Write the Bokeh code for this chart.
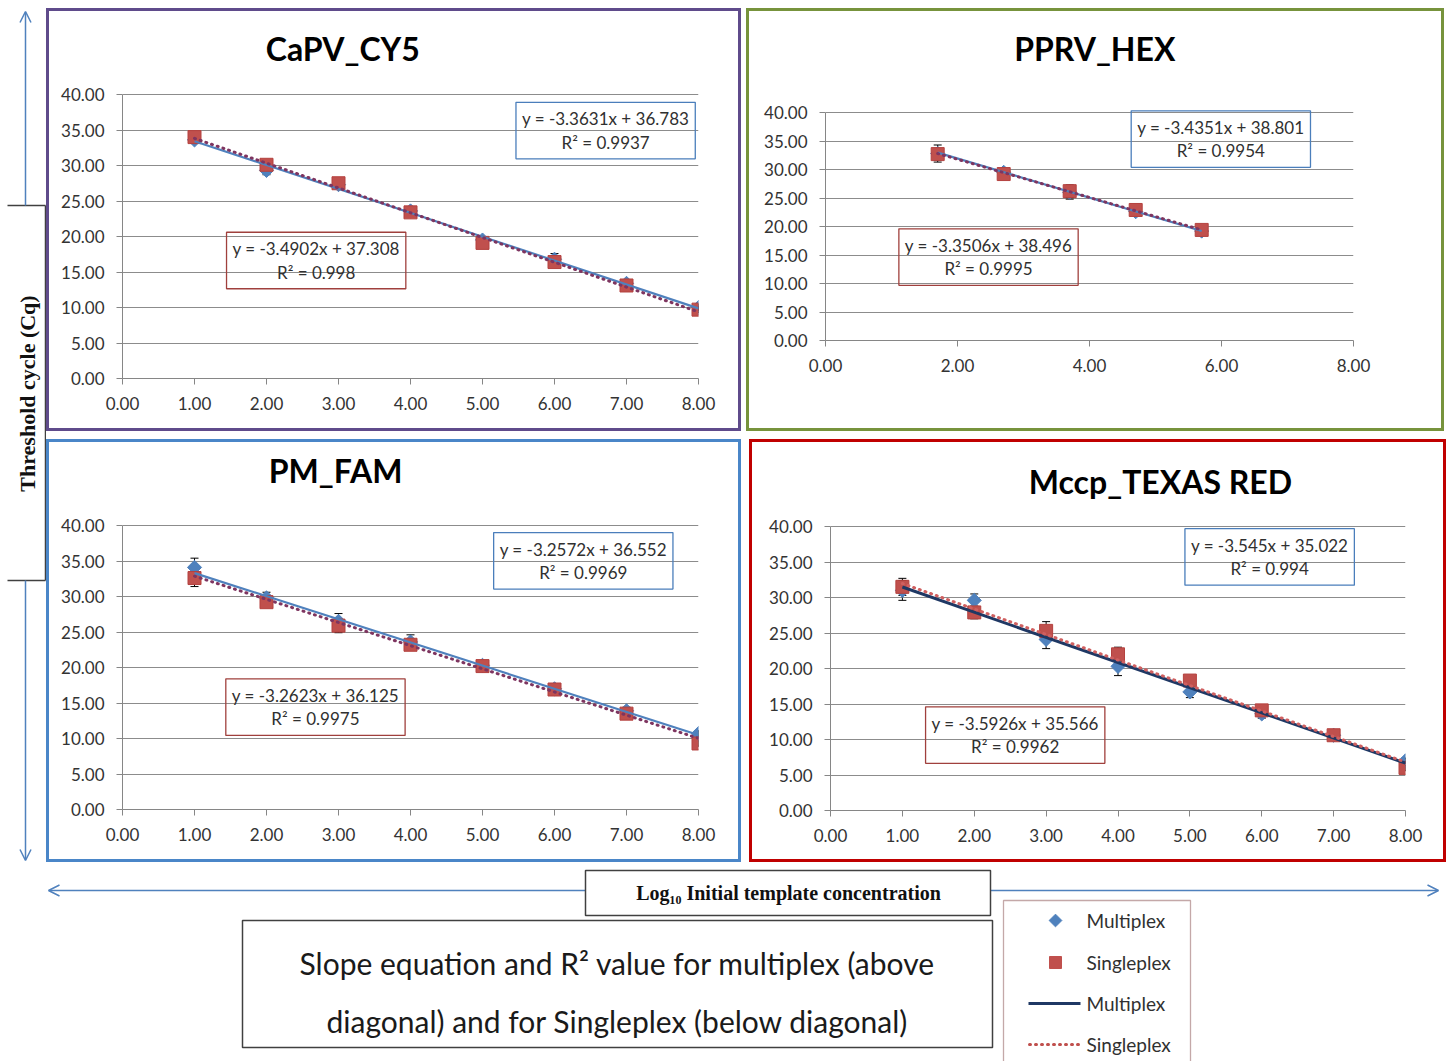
import math
from bokeh.plotting import figure
from bokeh.layouts import row, column, Spacer
from bokeh.models import (Range1d, FixedTicker, NumeralTickFormatter, ColumnDataSource,
                          Whisker, TeeHead, Label, Arrow, OpenHead, BoxAnnotation)
from bokeh.embed import file_html
from bokeh.resources import INLINE

# ---------------- data ----------------
y_ticks = [0, 5, 10, 15, 20, 25, 30, 35, 40]
x_ticks_full = [0, 1, 2, 3, 4, 5, 6, 7, 8]
x_ticks_pprv = [0, 2, 4, 6, 8]

capv_x = [1, 2, 3, 4, 5, 6, 7, 8]
capv_multiplex = [33.6, 29.3, 27.3, 23.6, 19.5, 16.8, 13.4, 10.0]
capv_multiplex_err = [0.5, 0.6, 0.5, 0.5, 0.4, 0.8, 0.5, 0.4]
capv_singleplex = [34.0, 30.1, 27.5, 23.4, 19.1, 16.4, 13.1, 9.7]
capv_singleplex_err = [0.4, 0.6, 0.7, 0.7, 0.3, 0.7, 0.5, 0.4]
capv_multiplex_fit = [-3.3631, 36.783, 0.9937]
capv_singleplex_fit = [-3.4902, 37.308, 0.998]

pprv_x = [1.7, 2.7, 3.7, 4.7, 5.7]
pprv_multiplex = [32.8, 29.5, 26.0, 22.6, 19.2]
pprv_multiplex_err = [1.5, 0.6, 1.2, 0.6, 0.5]
pprv_singleplex = [32.7, 29.2, 26.2, 22.9, 19.4]
pprv_singleplex_err = [1.0, 0.8, 1.1, 0.7, 0.5]
pprv_multiplex_fit = [-3.4351, 38.801, 0.9954]
pprv_singleplex_fit = [-3.3506, 38.496, 0.9995]

pm_x = [1, 2, 3, 4, 5, 6, 7, 8]
pm_multiplex = [34.1, 29.8, 26.5, 23.6, 20.3, 17.0, 13.9, 10.7]
pm_multiplex_err = [1.3, 0.8, 1.1, 1.0, 0.4, 0.4, 0.5, 0.4]
pm_singleplex = [32.6, 29.2, 25.9, 23.2, 20.2, 16.9, 13.5, 9.3]
pm_singleplex_err = [1.2, 0.7, 1.0, 0.8, 0.4, 0.4, 0.5, 0.4]
pm_multiplex_fit = [-3.2572, 36.552, 0.9969]
pm_singleplex_fit = [-3.2623, 36.125, 0.9975]

mccp_x = [1, 2, 3, 4, 5, 6, 7, 8]
mccp_multiplex = [31.0, 29.6, 24.1, 20.3, 16.7, 13.6, 10.6, 7.0]
mccp_multiplex_err = [1.4, 0.9, 1.3, 1.3, 0.8, 0.6, 0.4, 0.4]
mccp_singleplex = [31.5, 27.9, 25.3, 22.0, 18.3, 14.1, 10.6, 6.0]
mccp_singleplex_err = [1.2, 0.9, 1.3, 1.0, 0.5, 0.6, 0.4, 0.4]
mccp_multiplex_fit = [-3.545, 35.022, 0.994]
mccp_singleplex_fit = [-3.5926, 35.566, 0.9962]

legend_labels = ["Multiplex", "Singleplex", "Multiplex", "Singleplex"]

# ---------------- styles ----------------
FONT = "Lato"
MULTI = "#4f81bd"
SINGLE = "#c0504d"
TICK_TXT = "#333333"
AXIS_COL = "#868686"
GRID_COL = "#8c8c8c"
TOP_M = 10      # top margin of every panel (titles are drawn inside the frame)


def eq_text(fit):
    return "y = %sx + %s\nR\u00b2 = %s" % (fit[0], fit[1], fit[2])


def make_panel(title, x, ym, em, ys, es, fit_m, fit_s, xticks, cfg):
    # pixel calibration (page coordinates) -> data range above the 40 gridline
    ppu = (cfg["y0px"] - cfg["y40px"]) / 40.0
    f_top = cfg["top"] + TOP_M
    y_end = 40 + (cfg["y40px"] - f_top) / ppu
    mb = cfg["top"] + cfg["h"] - cfg["y0px"]
    p = figure(width=cfg["w"], height=cfg["h"], x_range=Range1d(0, 8),
               y_range=Range1d(0, y_end),
               output_backend="svg", toolbar_location=None,
               min_border_left=cfg["ml"], min_border_right=cfg["mr"],
               min_border_top=TOP_M, min_border_bottom=mb,
               border_fill_color=None, background_fill_color=None, outline_line_color=None,
               styles={"outline": "3px solid %s" % cfg["frame"], "outline-offset": "-3px"})
    p.xaxis.ticker = FixedTicker(ticks=xticks)
    p.yaxis.ticker = FixedTicker(ticks=y_ticks)
    p.yaxis.bounds = (0, 40)
    for ax in (p.xaxis[0], p.yaxis[0]):
        ax.formatter = NumeralTickFormatter(format="0.00")
        ax.axis_line_color = AXIS_COL
        ax.major_tick_line_color = AXIS_COL
        ax.major_tick_out = 6
        ax.major_tick_in = 0
        ax.minor_tick_out = 0
        ax.minor_tick_in = 0
        ax.major_label_text_font = FONT
        ax.major_label_text_font_size = "17px"
        ax.major_label_text_color = TICK_TXT
    p.xaxis.major_label_standoff = 12
    p.yaxis.major_label_standoff = 12
    p.xgrid.visible = False
    p.ygrid.grid_line_color = GRID_COL
    p.ygrid.grid_line_width = 1

    # error bars (under the markers)
    for yy, ee in ((ym, em), (ys, es)):
        src = ColumnDataSource(dict(x=x, upper=[a + b for a, b in zip(yy, ee)],
                                    lower=[a - b for a, b in zip(yy, ee)]))
        w = Whisker(source=src, base="x", upper="upper", lower="lower",
                    line_color="black", line_width=1, level="underlay",
                    upper_head=TeeHead(size=8, line_color="black", line_width=1),
                    lower_head=TeeHead(size=8, line_color="black", line_width=1))
        p.add_layout(w)

    # markers
    p.scatter(x, ym, marker="square", angle=math.pi / 4, size=10,
              fill_color=MULTI, line_color=MULTI)
    p.scatter(x, ys, marker="square", size=13, fill_color=SINGLE, line_color="#b4413e")

    # trend lines from the fitted equations
    xs = [min(x), max(x)]
    p.line(xs, [fit_m[0] * v + fit_m[1] for v in xs], line_color=cfg["mline"],
           line_width=cfg["mline_w"])
    p.line(xs, [fit_s[0] * v + fit_s[1] for v in xs], line_color=cfg["sline"],
           line_width=3, line_dash="1 5", line_cap="round")

    # title
    p.add_layout(Label(x=cfg["tx"], y=cfg["ty"], text=title, anchor="center",
                       text_align="center", text_baseline="middle",
                       text_font=FONT, text_font_style="bold", text_font_size="32px",
                       text_color="black"))
    # equation boxes
    for (bx, by_), fit, col in ((cfg["mbox"], fit_m, "#4a7ebb"), (cfg["sbox"], fit_s, "#a0403d")):
        p.add_layout(Label(x=bx, y=by_, text=eq_text(fit), anchor="top_center",
                           text_align="center", text_font=FONT, text_font_size="17px",
                           text_color="#303030", text_line_height=1.12,
                           border_line_color=col, border_line_width=1.3,
                           background_fill_color=None, padding=6))
    return p


p_capv = make_panel("CaPV_CY5", capv_x, capv_multiplex, capv_multiplex_err,
                    capv_singleplex, capv_singleplex_err, capv_multiplex_fit, capv_singleplex_fit,
                    x_ticks_full,
                    dict(w=695, h=423, top=8, ml=76, mr=43, y0px=378, y40px=94,
                         frame="#5f4b8b", mline=MULTI, mline_w=2.2, sline="#7e3560",
                         tx=3.06, ty=46.5, mbox=(6.71, 38.9), sbox=(2.69, 20.6)))

p_pprv = make_panel("PPRV_HEX", pprv_x, pprv_multiplex, pprv_multiplex_err,
                    pprv_singleplex, pprv_singleplex_err, pprv_multiplex_fit, pprv_singleplex_fit,
                    x_ticks_pprv,
                    dict(w=698, h=423, top=8, ml=79, mr=91, y0px=340, y40px=112,
                         frame="#77933c", mline=MULTI, mline_w=2.2, sline="#7e3560",
                         tx=4.08, ty=51.2, mbox=(5.99, 40.3), sbox=(2.47, 19.6)))

p_pm = make_panel("PM_FAM", pm_x, pm_multiplex, pm_multiplex_err,
                  pm_singleplex, pm_singleplex_err, pm_multiplex_fit, pm_singleplex_fit,
                  x_ticks_full,
                  dict(w=695, h=423, top=439, ml=76, mr=43, y0px=809, y40px=525,
                       frame="#4a86c8", mline=MULTI, mline_w=2.2, sline="#7e3560",
                       tx=2.96, ty=47.7, mbox=(6.40, 39.0), sbox=(2.68, 18.4)))

p_mccp = make_panel("Mccp_TEXAS RED", mccp_x, mccp_multiplex, mccp_multiplex_err,
                    mccp_singleplex, mccp_singleplex_err, mccp_multiplex_fit, mccp_singleplex_fit,
                    x_ticks_full,
                    dict(w=697, h=423, top=439, ml=81, mr=41, y0px=810, y40px=526,
                         frame="#c00000", mline="#1f3864", mline_w=3, sline="#d06060",
                         tx=4.59, ty=46.3, mbox=(6.11, 39.7), sbox=(2.57, 14.6)))

# ---------------- left strip: y-axis caption with arrows ----------------
ARROW = "#4f81bd"
BOXLINE = "#404040"


def ly(ry):
    return 862 - ry


L = figure(width=46, height=862, x_range=Range1d(0, 46), y_range=Range1d(0, 862),
           x_axis_type=None, y_axis_type=None, output_backend="svg", toolbar_location=None,
           min_border=0, outline_line_color=None, border_fill_color=None,
           background_fill_color=None)
L.add_layout(Arrow(x_start=25, y_start=ly(205), x_end=25, y_end=ly(11), line_color=ARROW,
                   line_width=1.5, end=OpenHead(size=11, line_color=ARROW, line_width=1.5)))
L.add_layout(Arrow(x_start=25, y_start=ly(580), x_end=25, y_end=ly(860), line_color=ARROW,
                   line_width=1.5, end=OpenHead(size=11, line_color=ARROW, line_width=1.5)))
L.segment(x0=[7, 7, 45], y0=[ly(205), ly(580), ly(205)], x1=[45, 45, 45],
          y1=[ly(205), ly(580), ly(580)], line_color=BOXLINE, line_width=1.5)
L.add_layout(Label(x=27, y=ly(393), text="Threshold cycle (Cq)", angle=math.pi / 2,
                   anchor="center", text_align="center", text_baseline="middle",
                   text_font="Liberation Serif", text_font_style="bold",
                   text_font_size="22px", text_color="#111111"))

# ---------------- bottom strip: x caption, note, legend ----------------


def by(ry):
    return 1061 - ry


B = figure(width=1446, height=199, x_range=Range1d(0, 1446), y_range=Range1d(0, 199),
           x_axis_type=None, y_axis_type=None, output_backend="svg", toolbar_location=None,
           min_border=0, outline_line_color=None, border_fill_color=None,
           background_fill_color=None)
B.add_layout(Arrow(x_start=585, y_start=by(890), x_end=48, y_end=by(890), line_color=ARROW,
                   line_width=1.5, end=OpenHead(size=11, line_color=ARROW, line_width=1.5)))
B.add_layout(Arrow(x_start=990, y_start=by(890), x_end=1438, y_end=by(890), line_color=ARROW,
                   line_width=1.5, end=OpenHead(size=11, line_color=ARROW, line_width=1.5)))
B.add_layout(BoxAnnotation(left=585, right=990, top=by(870), bottom=by(915), fill_alpha=0,
                           line_color=BOXLINE, line_alpha=1, line_width=1.5))
B.add_layout(Label(x=788, y=by(892), text="Log\u2081\u2080 Initial template concentration",
                   anchor="center", text_align="center", text_baseline="middle",
                   text_font="Liberation Serif", text_font_style="bold", text_font_size="20px",
                   text_color="#111111"))
B.add_layout(BoxAnnotation(left=242, right=992, top=by(920), bottom=by(1047), fill_alpha=0,
                           line_color=BOXLINE, line_alpha=1, line_width=1.5))
B.add_layout(Label(x=617, y=by(962), text="Slope equation and R\u00b2 value for multiplex (above",
                   anchor="center", text_align="center", text_baseline="middle",
                   text_font=FONT, text_font_size="30px", text_color="#1a1a1a"))
B.add_layout(Label(x=617, y=by(1020), text="diagonal) and for Singleplex (below diagonal)",
                   anchor="center", text_align="center", text_baseline="middle",
                   text_font=FONT, text_font_size="30px", text_color="#1a1a1a"))
# legend
B.add_layout(BoxAnnotation(left=1003, right=1190, top=by(900), bottom=by(1080), fill_alpha=0,
                           line_color="#c4a8a8", line_alpha=1, line_width=1.3))
B.scatter([1055], [by(920)], marker="square", angle=math.pi / 4, size=9,
          fill_color=MULTI, line_color=MULTI)
B.scatter([1055], [by(962)], marker="square", size=12, fill_color=SINGLE, line_color=SINGLE)
B.line([1028, 1080], [by(1003), by(1003)], line_color="#1f3864", line_width=3)
B.line([1029, 1080], [by(1044), by(1044)], line_color=SINGLE, line_width=3, line_dash="1 5",
       line_cap="round")
for lab, ry in zip(legend_labels, [920, 962, 1003, 1044]):
    B.add_layout(Label(x=1086, y=by(ry), text=lab, anchor="center_left", text_align="left",
                       text_baseline="middle", text_font=FONT, text_font_size="19px",
                       text_color="#303030"))

# ---------------- layout (each panel wrapped so rows do not align frames) ----------------
row1 = row(column(p_capv), Spacer(width=5, height=423), column(p_pprv))
row2 = row(column(p_pm), Spacer(width=8, height=423), column(p_mccp))
panels = column(Spacer(width=10, height=8), row1, Spacer(width=10, height=8), row2)
page = column(row(L, panels), B)

open("out.html", "w").write(file_html(page, INLINE))
